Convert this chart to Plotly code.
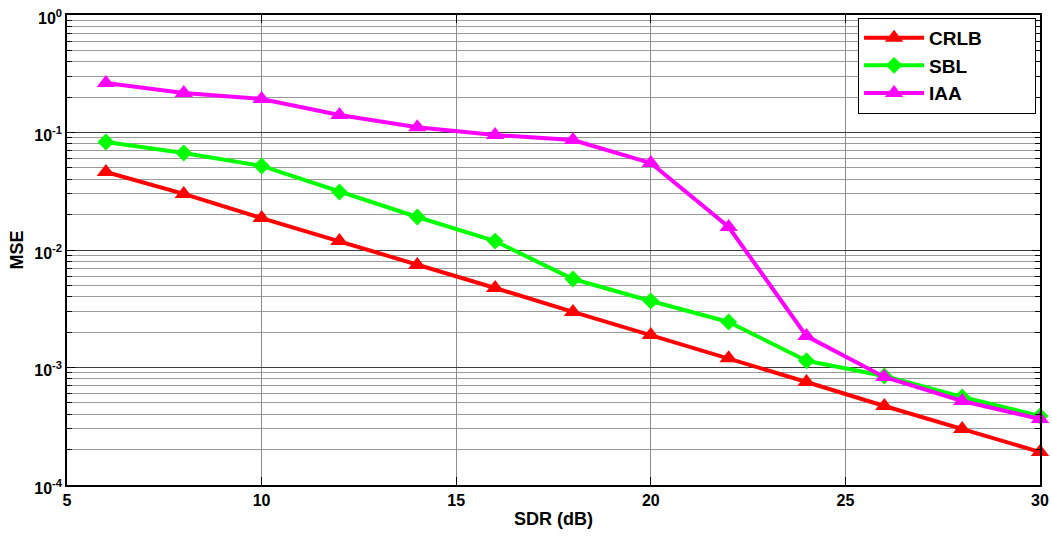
import plotly.graph_objects as go

# SDR values (dB) and MSE per method
sdr = [6, 8, 10, 12, 14, 16, 18, 20, 22, 24, 26, 28, 30]
crlb = [0.0461, 0.0300, 0.0187, 0.0119, 0.00745, 0.00475, 0.00297,
        0.00189, 0.00120, 0.000753, 0.000470, 0.000300, 0.000191]
sbl = [0.0830, 0.0670, 0.0519, 0.0312, 0.0191, 0.0119, 0.00566,
       0.00368, 0.00244, 0.00114, 0.000847, 0.000561, 0.000387]
iaa = [0.264, 0.217, 0.193, 0.141, 0.111, 0.0952, 0.0863,
       0.0550, 0.0157, 0.00185, 0.000830, 0.000519, 0.000365]

y_tickvals = [1e-4, 1e-3, 1e-2, 1e-1, 1e0]
y_ticktext = ["<b>10<sup>-4</sup></b>", "<b>10<sup>-3</sup></b>", "<b>10<sup>-2</sup></b>",
              "<b>10<sup>-1</sup></b>", "<b>10<sup>0</sup></b>"]
x_tickvals = [5, 10, 15, 20, 25, 30]
x_ticktext = ["<b>%d</b>" % v for v in x_tickvals]

series = [
    ("CRLB", crlb, "#ff0000", "triangle-up"),
    ("SBL", sbl, "#00ff00", "diamond"),
    ("IAA", iaa, "#ff00ff", "triangle-up"),
]

FONT = "Liberation Sans, Arial"
# trailing non-breaking spaces widen the legend box
PAD = "&nbsp;" * 9

fig = go.Figure()
for name, vals, color, sym in series:
    fig.add_trace(go.Scatter(
        x=sdr, y=vals, name="<b>%s</b>%s" % (name, PAD), mode="lines+markers",
        line=dict(color=color, width=4),
        marker=dict(symbol=sym, size=16 if sym == "triangle-up" else 13, color=color),
        cliponaxis=False,
    ))

axis_common = dict(
    showline=True, linecolor="black", linewidth=1.5, mirror="ticks",
    ticks="inside", ticklen=8, tickcolor="black",
    tickfont=dict(family=FONT, size=16, color="black"),
    zeroline=False, automargin=False,
)

fig.update_xaxes(
    range=[5, 30], tickvals=x_tickvals, ticktext=x_ticktext,
    showgrid=True, gridcolor="#8c8c8c", gridwidth=1,
    title=dict(text="<b>SDR (dB)</b>", font=dict(family=FONT, size=18, color="black"), standoff=4),
    **axis_common,
)
fig.update_yaxes(
    type="log", range=[-4, 0], tickvals=y_tickvals, ticktext=y_ticktext,
    showgrid=True, gridcolor="#3c3c3c", gridwidth=1,
    ticklabelshift=3,
    minor=dict(dtick="D1", showgrid=True, gridcolor="#9a9a9a", gridwidth=1,
               ticks="inside", ticklen=5, tickcolor="black"),
    title=dict(text="<b>MSE</b>", font=dict(family=FONT, size=18, color="black"), standoff=6),
    **axis_common,
)

fig.update_layout(
    width=1052, height=536,
    margin=dict(l=67, r=12, t=15, b=51),
    paper_bgcolor="white", plot_bgcolor="white",
    font=dict(family=FONT, color="black"),
    legend=dict(
        x=0.813, y=0.994, xanchor="left", yanchor="top",
        bgcolor="white", bordercolor="black", borderwidth=1,
        font=dict(family=FONT, size=19, color="black"),
        itemwidth=60, tracegroupgap=0,
    ),
    showlegend=True,
)

fig.write_html("out.html")
